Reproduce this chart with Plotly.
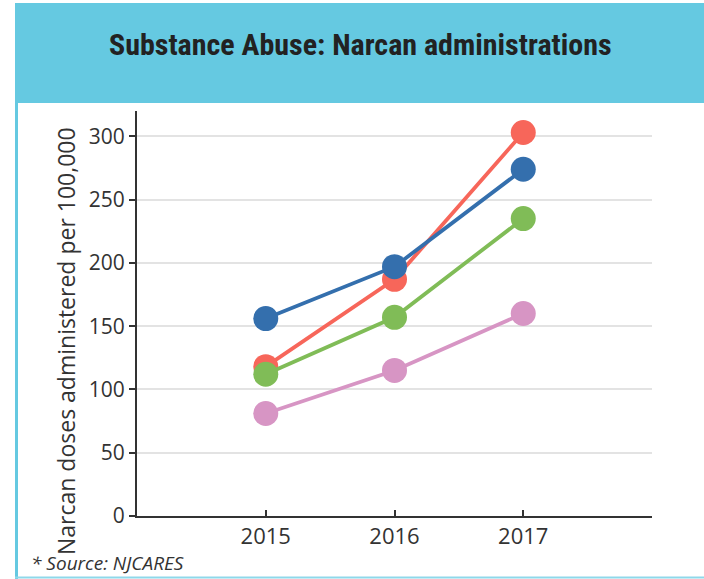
import plotly.graph_objects as go

years = [2015, 2016, 2017]
pink_vals = [81, 115, 160]
red_vals = [118, 187, 303]
green_vals = [112, 157, 235]
blue_vals = [156, 197, 274]
colors = {"pink": "#D795C4", "red": "#F7665A", "green": "#80BC57", "blue": "#346FAD"}
y_ticks = [0, 50, 100, 150, 200, 250, 300]

W, H = 704, 579
L, R, T, B = 137, 52, 111, 63
pw, ph = W - L - R, H - T - B

def px_x(px):
    return (px - L) / pw

def px_y(py):
    return (H - B - py) / ph

fig = go.Figure()
for name, vals, c in [("Pink", pink_vals, colors["pink"]), ("Red", red_vals, colors["red"]),
                      ("Green", green_vals, colors["green"]), ("Blue", blue_vals, colors["blue"])]:
    fig.add_trace(go.Scatter(x=years, y=vals, mode="lines+markers", name=name,
                             line=dict(color=c, width=3.8),
                             marker=dict(color=c, size=25, line=dict(width=0))))

shapes = [
    dict(type="rect", xref="paper", yref="paper", x0=px_x(15), x1=px_x(706), y0=px_y(103), y1=px_y(3),
         fillcolor="#65C9E1", line=dict(width=0), layer="below"),
    dict(type="line", xref="paper", yref="paper", x0=px_x(16.5), x1=px_x(16.5), y0=px_y(103), y1=px_y(580),
         line=dict(color="#65C9E1", width=3)),
    dict(type="line", xref="paper", yref="paper", x0=px_x(15), x1=px_x(706), y0=px_y(577.5), y1=px_y(577.5),
         line=dict(color="#8FD8EA", width=2)),
]

annotations = [
    dict(text="<b>Substance Abuse: Narcan administrations</b>", xref="paper", yref="paper",
         x=px_x(360), y=px_y(44), xanchor="center", yanchor="middle", showarrow=False,
         font=dict(family="Liberation Sans Narrow, Roboto Condensed, Arial Narrow, sans-serif", size=30, color="#222222")),
    dict(text="Narcan doses administered per 100,000", xref="paper", yref="paper",
         x=px_x(66), y=px_y(341), xanchor="center", yanchor="middle", showarrow=False, textangle=-90,
         font=dict(family="Open Sans, sans-serif", size=23, color="#333333")),
    dict(text="<i>* Source: NJCARES</i>", xref="paper", yref="paper",
         x=px_x(29), y=px_y(563), xanchor="left", yanchor="middle", showarrow=False,
         font=dict(family="Open Sans, sans-serif", size=19, color="#333333")),
]

fig.update_layout(
    width=W, height=H,
    margin=dict(l=L, r=R, t=T, b=B, autoexpand=False),
    paper_bgcolor="white", plot_bgcolor="white",
    showlegend=False,
    shapes=shapes, annotations=annotations,
    font=dict(family="Open Sans, sans-serif", color="#333333"),
    xaxis=dict(range=[2014, 2018], tickvals=years, ticktext=[str(y) for y in years],
               showgrid=False, showline=True, linecolor="#333333", linewidth=2,
               ticks="inside", ticklen=6, tickwidth=2, tickcolor="#333333",
               tickfont=dict(size=22, color="#333333"), zeroline=False, fixedrange=True),
    yaxis=dict(range=[0, 320], tickvals=y_ticks,
               showgrid=True, gridcolor="#E3E3E3", gridwidth=2,
               showline=True, linecolor="#333333", linewidth=2,
               ticks="outside", ticklen=6, tickwidth=2, tickcolor="#333333",
               tickfont=dict(size=21, color="#333333"), zeroline=False),
)

fig.write_html("out.html", config={"displayModeBar": False},
               post_script="document.body.style.margin='0';document.body.style.padding='0';")
